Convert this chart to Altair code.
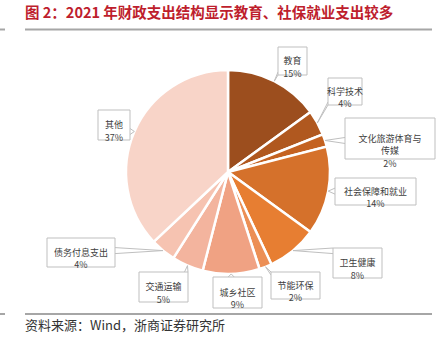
import math
import altair as alt
import pandas as pd

# ---- data ----
labels = ["教育", "科学技术", "文化旅游体育与传媒", "社会保障和就业", "卫生健康",
          "节能环保", "城乡社区", "交通运输", "债务付息支出", "其他"]
values = [15, 4, 2, 14, 8, 2, 9, 5, 4, 37]
label_lines = ["教育", "科学技术", "文化旅游体育与\n传媒", "社会保障和就业", "卫生健康",
               "节能环保", "城乡社区", "交通运输", "债务付息支出", "其他"]
colors = ["#9C4E1E", "#B0581F", "#C46221", "#D5712B", "#E77E32",
          "#EC8F55", "#F0A283", "#F3B49E", "#F6C3B1", "#F8D4C8"]

title_text = "图 2：2021 年财政支出结构显示教育、社保就业支出较多"
source_text = "资料来源：Wind，浙商证券研究所"

# ---- layout (pixels) ----
W, H = 443, 353
CX, CY, R = 228, 172, 102
# label boxes: x1, x2, y1, y2
boxes = [
    (278, 307, 47, 75),
    (328, 362, 78, 105),
    (345, 435, 118, 159),
    (335, 416, 178, 205),
    (333, 382, 248, 278),
    (271, 320, 272, 299),
    (213, 262, 277, 308),
    (139, 188, 272, 302),
    (47, 115, 238, 267),
    (98, 130, 110, 140),
]

pie_df = pd.DataFrame({"label": labels, "value": values, "idx": range(len(labels))})

# label / leader table derived from the data (mid-angle of each slice)
total = sum(values)
rows = []
cum = 0
for i, (lab, v) in enumerate(zip(labels, values)):
    mid = (cum + v / 2) / total * 2 * math.pi
    cum += v
    ax = CX + R * math.sin(mid)
    ay = CY - R * math.cos(mid)
    x1, x2, y1, y2 = boxes[i]
    bx = min(max(ax, x1), x2)
    by = min(max(ay, y1), y2)
    # wedge base points along the box edge
    if bx in (x1, x2):
        b1 = (bx, max(y1, by - 3)); b2 = (bx, min(y2, by + 3))
    else:
        b1 = (max(x1, bx - 3), by); b2 = (min(x2, bx + 3), by)
    rows.append(dict(label=lab, text=label_lines[i] + "\n" + f"{v}%",
                     x1=x1, x2=x2, y1=y1, y2=y2,
                     cx=(x1 + x2) / 2, cy=(y1 + y2) / 2,
                     ax=ax, ay=ay, b1x=b1[0], b1y=b1[1], b2x=b2[0], b2y=b2[1]))
lab_df = pd.DataFrame(rows)

xs = alt.Scale(domain=[0, W], nice=False, zero=False)
ys = alt.Scale(domain=[0, H], nice=False, zero=False, reverse=True)

pie = alt.Chart(pie_df).mark_arc(outerRadius=R, stroke="white", strokeWidth=2.5).encode(
    theta=alt.Theta("value:Q", stack=True),
    order=alt.Order("idx:Q"),
    color=alt.Color("label:N", scale=alt.Scale(domain=labels, range=colors), legend=None),
    x=alt.value(CX), y=alt.value(CY),
)

base = alt.Chart(lab_df)
lead1 = base.mark_rule(color="#BFBFBF", strokeWidth=1).encode(
    x=alt.X("b1x:Q", scale=xs, axis=None), y=alt.Y("b1y:Q", scale=ys, axis=None),
    x2="ax:Q", y2="ay:Q")
lead2 = base.mark_rule(color="#BFBFBF", strokeWidth=1).encode(
    x=alt.X("b2x:Q", scale=xs, axis=None), y=alt.Y("b2y:Q", scale=ys, axis=None),
    x2="ax:Q", y2="ay:Q")
rects = base.mark_rect(fill="white", stroke="#BFBFBF", strokeWidth=1).encode(
    x=alt.X("x1:Q", scale=xs, axis=None), x2="x2:Q",
    y=alt.Y("y1:Q", scale=ys, axis=None), y2="y2:Q")
texts = base.mark_text(font="Noto Sans CJK SC", fontSize=9, color="#404040",
                       lineBreak="\n", lineHeight=12.5, baseline="middle", align="center").encode(
    x=alt.X("cx:Q", scale=xs, axis=None), y=alt.Y("cy:Q", scale=ys, axis=None), text="text:N")

title = alt.Chart(pd.DataFrame({"t": [title_text]})).mark_text(
    font="Noto Sans CJK SC", fontSize=14.5, fontWeight="bold", color="#BE1E2D",
    align="left", baseline="middle").encode(x=alt.value(25), y=alt.value(14), text="t:N")
source = alt.Chart(pd.DataFrame({"t": [source_text]})).mark_text(
    font="Noto Sans CJK SC", fontSize=13, color="#333333",
    align="left", baseline="middle").encode(x=alt.value(25), y=alt.value(326), text="t:N")

line_top = alt.Chart(pd.DataFrame({"a": [0]})).mark_rule(color="#A6A6A6", strokeWidth=2).encode(
    x=alt.value(25), x2=alt.value(432), y=alt.value(29.5))
line_bot = alt.Chart(pd.DataFrame({"a": [0]})).mark_rule(color="#A6A6A6", strokeWidth=2).encode(
    x=alt.value(25), x2=alt.value(432), y=alt.value(314))
tick_top = alt.Chart(pd.DataFrame({"a": [0]})).mark_rule(color="#A6A6A6", strokeWidth=2).encode(
    x=alt.value(0), x2=alt.value(5), y=alt.value(29.5))
tick_bot = alt.Chart(pd.DataFrame({"a": [0]})).mark_rule(color="#A6A6A6", strokeWidth=2).encode(
    x=alt.value(0), x2=alt.value(5), y=alt.value(314))

chart = alt.layer(
    pie, lead1, lead2, rects, texts, title, source, line_top, line_bot, tick_top, tick_bot
).properties(
    width=W, height=H, padding=0,
    autosize=alt.AutoSizeParams(type="none"),
    background="white",
).configure_view(stroke=None)

chart.save("out.html", embed_options={"renderer": "svg", "actions": False})
